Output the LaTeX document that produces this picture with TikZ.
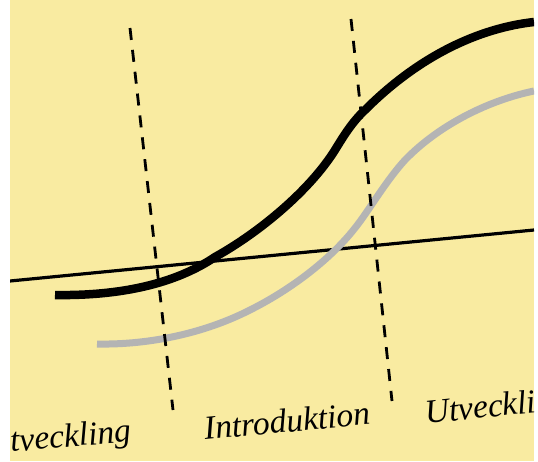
\documentclass[tikz,border=0pt]{standalone}
\usepackage{fontspec}
\setmainfont{Liberation Serif}
\definecolor{bgyellow}{HTML}{F9EBA1}
\definecolor{curvegray}{HTML}{B4B4B4}
\begin{document}
\begin{tikzpicture}[x=1pt,y=-1pt,
  blackcurve/.style={line width=8.5pt,black},
  graycurve/.style={line width=7pt,curvegray},
  thinline/.style={line width=3.2pt,black},
  boundary/.style={line width=2.8pt,black,dash pattern=on 12pt off 10pt},
  phase/.style={font=\itshape\fontsize{33.5}{33.5}\selectfont,inner sep=0pt}]
\useasboundingbox (0,0) rectangle (538,461);
\fill[white] (0,0) rectangle (538,461);
\fill[bgyellow] (10,0) rectangle (534,461);
\begin{scope}
\clip (10,0) rectangle (534,461);
% thin line
\coordinate (tl1) at (10,281);
\coordinate (tl2) at (534,230);
\draw[thinline] (tl1) -- (tl2);
% gray curve
\coordinate (g0) at (97,344);
\coordinate (g1) at (250,310);
\coordinate (g2) at (355,228);
\coordinate (g3) at (405,160);
\coordinate (g4) at (534,91);
\draw[graycurve] (g0) .. controls (150,345) and (205,333) .. (g1)
  .. controls (290,290) and (330,260) .. (g2)
  .. controls (368,212) and (385,182) .. (g3)
  .. controls (440,124) and (490,100) .. (g4);
% black curve
\coordinate (b0) at (55,295);
\coordinate (b1) at (215,257);
\coordinate (b2) at (335,150);
\coordinate (b3) at (365,110);
\coordinate (b4) at (534,22);
\draw[blackcurve] (b0) .. controls (120,296) and (175,284) .. (b1)
  .. controls (260,232) and (310,190) .. (b2)
  .. controls (343,137) and (352,122) .. (b3)
  .. controls (420,55) and (480,28) .. (b4);
% dashed boundaries
\coordinate (d1a) at (130,28);
\coordinate (d1b) at (173,410);
\coordinate (d2a) at (351,19);
\coordinate (d2b) at (392,401);
\draw[boundary] (d1a) -- (d1b);
\draw[boundary] (d2a) -- (d2b);
\end{scope}
% labels
\node[phase,anchor=base west,rotate=5] (l1) at (11,452) {tveckling};
\node[phase,anchor=base west,rotate=5.5] (l2) at (205,440) {Introduktion};
\node[phase,anchor=base west,rotate=6] (l3) at (426,424) {Utveckli};
\end{tikzpicture}
\end{document}
